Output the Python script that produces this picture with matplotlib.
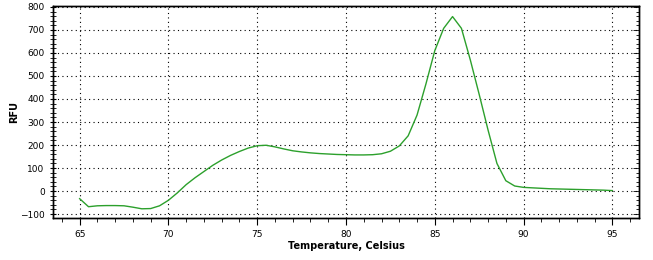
import matplotlib
matplotlib.use("Agg")
import matplotlib.pyplot as plt
from matplotlib.ticker import MultipleLocator

temps = [65, 65.5, 66, 66.5, 67, 67.5, 68, 68.5, 69, 69.5, 70, 70.5, 71, 71.5, 72, 72.5,
         73, 73.5, 74, 74.5, 75, 75.5, 76, 76.5, 77, 77.5, 78, 78.5, 79, 79.5, 80, 80.5,
         81, 81.5, 82, 82.5, 83, 83.5, 84, 84.5, 85, 85.5, 86, 86.5, 87, 87.5, 88, 88.5,
         89, 89.5, 90, 90.5, 91, 91.5, 92, 92.5, 93, 93.5, 94, 94.5, 95]
rfu = [-33, -68, -64, -63, -63, -64, -70, -77, -76, -64, -40, -8, 28, 58, 85, 112,
       135, 155, 172, 187, 197, 199, 192, 183, 175, 170, 166, 163, 161, 159, 158, 157,
       157, 158, 162, 173, 196, 240, 330, 465, 610, 707, 758, 707, 570, 420, 265, 120,
       45, 22, 16, 14, 12, 10, 9, 8, 7, 6, 5, 4, 2]

xlabel = "Temperature, Celsius"
ylabel = "RFU"

plt.rcParams['font.family'] = ['DejaVu Sans']
fig = plt.figure(figsize=(6.53, 2.60), dpi=100)
ax = fig.add_axes([53/653, 1-218/260, (639-53)/653, (218-6)/260])
ax.plot(temps, rfu, color='#2ca02c', lw=1.0)
ax.set_xlim(63.5, 96.5)
ax.set_ylim(-117, 804)
ax.xaxis.set_major_locator(MultipleLocator(5))
ax.xaxis.set_minor_locator(MultipleLocator(1))
ax.yaxis.set_major_locator(MultipleLocator(100))
ax.yaxis.set_minor_locator(MultipleLocator(20))
ax.grid(True, which='major', color='black', linestyle=(0, (1, 3)), lw=0.8)
ax.tick_params(axis='both', which='major', labelsize=6.5, width=0.8, colors='black')
ax.tick_params(axis='y', which='both', direction='inout')
ax.tick_params(axis='y', which='major', length=5)
ax.tick_params(axis='y', which='minor', length=4, width=0.6)
ax.tick_params(axis='x', which='minor', length=3, width=0.6)
ax.tick_params(axis='x', which='major', length=5)

ax2 = ax.twinx()
ax2.set_ylim(ax.get_ylim())
ax2.yaxis.set_major_locator(MultipleLocator(100))
ax2.yaxis.set_minor_locator(MultipleLocator(20))
ax2.tick_params(axis='y', which='both', direction='in', labelright=False, width=0.6)
ax2.tick_params(axis='y', which='major', length=4)
ax2.tick_params(axis='y', which='minor', length=2.5)

for a in (ax, ax2):
    for s in a.spines.values():
        s.set_linewidth(1.0)
ax.set_xlabel(xlabel, fontsize=7, fontweight='bold')
ax.set_ylabel(ylabel, fontsize=7, fontweight='bold')
ax.xaxis.set_label_coords(0.5, (218 - 246) / 212, transform=ax.transAxes)
ax.yaxis.set_label_coords((14 - 53) / 586, 0.5, transform=ax.transAxes)
ax.xaxis.label.set_va('center')
ax.yaxis.label.set_va('center')
fig.savefig("out.png", dpi=100)
